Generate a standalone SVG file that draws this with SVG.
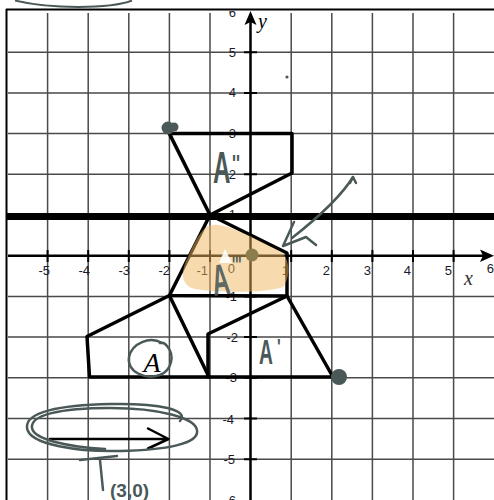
<svg xmlns="http://www.w3.org/2000/svg" width="494" height="500" viewBox="0 0 494 500">
<defs>
<style>
.grid{stroke:#4a4a4a;stroke-width:1.5;fill:none}
.axis{stroke:#000;stroke-width:2.5;fill:none}
.tick{stroke:#000;stroke-width:2}
.lbl{font-family:"Liberation Sans",Arial,sans-serif;font-size:13px;fill:#1a1a2a;text-anchor:end}
.shape{stroke:#000;stroke-width:3.5;fill:none;stroke-linejoin:round;stroke-linecap:round}
.hand{stroke:#4b5858;stroke-width:2.5;fill:none;stroke-linecap:round;stroke-linejoin:round}
.htxt{font-family:"Liberation Sans",Arial,sans-serif;font-weight:bold;fill:#4b5858}
</style>
<clipPath id="topclip"><rect x="0" y="11" width="494" height="489"/></clipPath>
</defs>
<rect width="494" height="500" fill="#fff"/>
<g id="grid">
<path class="grid" d="M47.6,13V500M88.2,13V500M128.8,13V500M169.4,13V500M210,13V500M291.2,13V500M331.8,13V500M372.4,13V500M413,13V500M453.6,13V500"/>
<path class="grid" d="M8,52.2H494M8,92.9H494M8,133.6H494M8,174.3H494M8,296.4H494M8,337.1H494M8,377.8H494M8,418.5H494M8,459.2H494"/>
</g>
<g id="frame">
<path d="M6,9.5H494M6.5,9V500" stroke="#000" stroke-width="2" fill="none"/>
<path d="M15,0.5 C50,9 110,9 132,0.5" stroke="#4b5858" stroke-width="2" fill="none"/>
</g>
<g id="axes">
<path class="axis" d="M8,255.7H484M250.5,500V20"/>
<path d="M494,255.7 L480,249.5 L483,255.7 L480,262 Z" fill="#000"/>
<path d="M250.5,11 L244.5,25 L250.5,22 L256.5,25 Z" fill="#000"/>
<path class="tick" d="M244,52.2h13M244,92.9h13M244,133.6h13M244,174.3h13M244,215h13M244,296.4h13M244,337.1h13M244,377.8h13M244,418.5h13M244,459.2h13"/>
<path class="tick" d="M47.6,250v12M88.2,250v12M128.8,250v12M169.4,250v12M210,250v12M291.2,250v12M331.8,250v12M372.4,250v12M413,250v12M453.6,250v12"/>
<g class="lbl">
<text x="50" y="275">-5</text><text x="90" y="275">-4</text><text x="130" y="275">-3</text><text x="170" y="275">-2</text><text x="208" y="275">-1</text><text x="235" y="273">0</text><text x="289" y="275">1</text><text x="330" y="275">2</text><text x="371" y="275">3</text><text x="411" y="275">4</text><text x="452" y="275">5</text><text x="494" y="273">6</text>
<text x="236" y="17" clip-path="url(#topclip)">6</text>
<text x="236" y="57">5</text><text x="236" y="97">4</text><text x="236" y="138">3</text><text x="236" y="179">2</text><text x="236" y="219">1</text><text x="237" y="301">-1</text><text x="238" y="342">-2</text><text x="237" y="382">-3</text><text x="234" y="424">-4</text><text x="235" y="464">-5</text><text x="236" y="505">-6</text>
</g>
<text x="258" y="28" font-family="Liberation Serif,serif" font-style="italic" font-size="20" fill="#000">y</text>
<text x="464" y="285" font-family="Liberation Serif,serif" font-style="italic" font-size="20" fill="#333">x</text>
</g>
<g id="mirror-line">
<path d="M6,216.5H494" stroke="#000" stroke-width="7"/>
</g>
<g id="figure-A2">
<path class="shape" d="M169.4,133.6 L292,133.6 L292,173 L210,215 Z"/>
</g>
<g id="figure-A3">
<path class="shape" d="M210,215 L287,253 L287,296 L169.4,295.5 Z"/>
</g>
<g id="figure-A">
<path class="shape" d="M169.4,295.5 L87,336.5 L89.5,377 L209,377 Z"/>
</g>
<g id="figure-A1">
<path class="shape" d="M208,377 L208,334 L287,296 L333,377 Z"/>
</g>
<g id="highlight">
<path d="M205,228 C214,220 232,228 250,236 L281,252 C290,258 291,278 283,287 C265,293 222,293 195,289 C181,286 180,272 188,257 C193,245 198,235 205,228 Z" fill="#f0b860" fill-opacity="0.5"/>
<path d="M219,263 L225,249 L232,263 Z" fill="#fff" fill-opacity="0.9"/>
<circle cx="252" cy="255" r="6.5" fill="#8b7d4e"/>
<text class="htxt" transform="translate(214,296) rotate(-8) scale(0.55,1)" font-size="44" fill="#7a6c40" fill-opacity="0.9">A</text>
<text class="htxt" transform="translate(232,272) scale(0.6,1)" font-size="22" fill="#7a6c40">'''</text>
</g>
<g id="labels">
<text class="htxt" transform="translate(213,183) scale(0.55,1)" font-size="44">A</text>
<text class="htxt" transform="translate(232,172) scale(0.7,1)" font-size="24">''</text>
<text class="htxt" transform="translate(259,364) scale(0.55,1)" font-size="35">A</text>
<text class="htxt" transform="translate(277,354) scale(0.7,1)" font-size="22">'</text>
<text x="152" y="372" font-family="Liberation Serif,serif" font-style="italic" font-size="28" text-anchor="middle" fill="#000">A</text>
<path class="hand" d="M162,343 C150,336 132,343 129,357 C127,372 145,380 160,375 C172,370 175,355 167,346 C165,343 163,342 160,343"/>
<circle cx="168" cy="128" r="6.5" fill="#4b5858"/>
<circle cx="174" cy="127" r="4.5" fill="#4b5858"/>
<circle cx="339" cy="377" r="8" fill="#4b5858"/>
<circle cx="287" cy="77" r="1.6" fill="#4b5858"/>
</g>
<g id="connectors">
<path class="hand" d="M350,183 L353,177 L356,183"/>
<path class="hand" d="M353,177 C342,195 320,216 292,238"/>
<path class="hand" d="M294,222 L283,246 L306,237 L316,245"/>
<path d="M50,439 H168 M148,428.5 L168.5,439 L148,448.5" stroke="#000" stroke-width="2.5" fill="none" stroke-linecap="round" stroke-linejoin="round"/>
<path class="hand" d="M180,421 C190,410 160,403 110,404 C60,405 25,412 27,428 C29,445 80,452 120,451 C165,450 200,444 197,430 C195,418 160,408 110,408 C60,408 30,415 32,428 C34,440 70,447 105,449"/>
<path class="hand" d="M80,460 L117,456 M100,460 L103,490"/>
<text class="htxt" x="110" y="497" font-size="19" font-weight="normal">(3,0)</text>
</g>
</svg>
